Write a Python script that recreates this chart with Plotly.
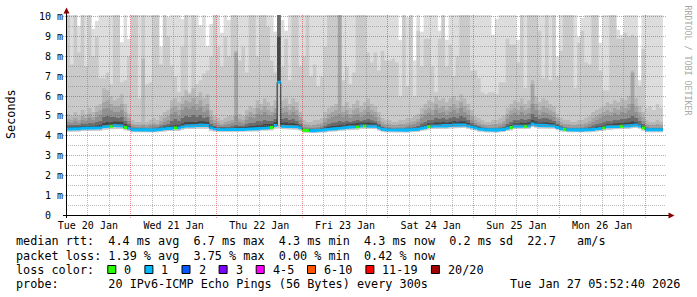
import pandas as pd
import plotly.graph_objects as go

# ---------------- data (hourly consolidated smokeping values, ms) ----------------
first_hour = "2026-01-20 06:00:00"
range_start = "2026-01-20 05:52:40"
range_end = "2026-01-27 05:52:40"

median_ms = [
    4.34, 4.34, 4.35, 4.36, 4.38, 4.38, 4.38, 4.37, 4.38, 4.40, 4.45, 4.48, 4.48, 4.52, 4.52, 4.50, 4.42, 4.38,
    4.30, 4.28, 4.28, 4.27, 4.27, 4.28, 4.28, 4.30, 4.33, 4.36, 4.38, 4.38, 4.40, 4.40, 4.45, 4.50, 4.52, 4.50, 4.52, 4.55, 4.55, 4.52, 4.40, 4.35,
    4.32, 4.31, 4.30, 4.30, 4.30, 4.31, 4.32, 4.32, 4.33, 4.35, 4.36, 4.36, 4.38, 4.38, 4.40, 4.42, 4.52, 6.70, 4.48, 4.48, 4.47, 4.46, 4.45, 4.40,
    4.28, 4.27, 4.26, 4.26, 4.27, 4.28, 4.30, 4.33, 4.35, 4.36, 4.38, 4.40, 4.42, 4.45, 4.45, 4.45, 4.50, 4.50, 4.48, 4.48, 4.48, 4.40, 4.33, 4.30,
    4.28, 4.27, 4.27, 4.27, 4.28, 4.28, 4.30, 4.32, 4.33, 4.38, 4.42, 4.47, 4.48, 4.50, 4.50, 4.52, 4.50, 4.52, 4.55, 4.52, 4.55, 4.55, 4.50, 4.45,
    4.40, 4.35, 4.32, 4.30, 4.28, 4.28, 4.28, 4.30, 4.32, 4.38, 4.42, 4.48, 4.48, 4.48, 4.48, 4.50, 4.60, 4.55, 4.52, 4.52, 4.52, 4.50, 4.50, 4.42,
    4.36, 4.32, 4.30, 4.28, 4.28, 4.28, 4.28, 4.30, 4.30, 4.32, 4.35, 4.37, 4.40, 4.45, 4.45, 4.47, 4.47, 4.48, 4.50, 4.50, 4.52, 4.55, 4.50, 4.40,
    4.30, 4.28, 4.28, 4.28, 4.30,
]

# number of lost pings class per hour (index into loss_colors)
loss_class = [
    1, 1, 1, 1, 1, 1, 1, 1, 1, 1, 1, 1, 0, 1, 1, 1, 0, 1,
    1, 1, 1, 1, 1, 1, 1, 1, 1, 1, 1, 1, 0, 1, 1, 1, 1, 1, 1, 1, 1, 1, 1, 1,
    1, 1, 1, 1, 1, 1, 1, 1, 1, 1, 1, 1, 1, 1, 1, 0, 1, 1, 1, 1, 1, 1, 1, 1,
    0, 0, 1, 1, 1, 1, 1, 1, 1, 1, 1, 1, 1, 1, 1, 0, 1, 0, 1, 1, 1, 1, 1, 1,
    1, 1, 1, 1, 1, 1, 1, 1, 1, 1, 1, 0, 1, 1, 1, 1, 1, 1, 1, 1, 1, 1, 1, 1,
    1, 1, 1, 1, 1, 1, 1, 1, 1, 1, 0, 1, 1, 1, 0, 1, 1, 1, 1, 1, 1, 1, 1, 1,
    1, 0, 1, 1, 1, 1, 1, 1, 1, 1, 1, 1, 0, 1, 1, 1, 1, 0, 1, 1, 1, 1, 1, 0,
    1, 1, 1, 1, 1,
]

# smoke: lowest ping and upper ping ranks (20 pings per round)
ping_low = [
    4.21, 4.21, 4.22, 4.22, 4.24, 4.24, 4.24, 4.23, 4.24, 4.26, 4.30, 4.32, 4.33, 4.36, 4.36, 4.34, 4.28, 4.24,
    4.18, 4.16, 4.16, 4.15, 4.15, 4.16, 4.16, 4.18, 4.20, 4.22, 4.24, 4.24, 4.26, 4.26, 4.30, 4.34, 4.36, 4.34, 4.36, 4.38, 4.38, 4.36, 4.26, 4.22,
    4.20, 4.19, 4.18, 4.18, 4.18, 4.19, 4.20, 4.20, 4.21, 4.22, 4.23, 4.23, 4.25, 4.25, 4.27, 4.28, 4.36, 4.38, 4.34, 4.34, 4.33, 4.32, 4.31, 4.27,
    4.16, 4.15, 4.14, 4.14, 4.15, 4.16, 4.18, 4.20, 4.22, 4.23, 4.25, 4.27, 4.28, 4.31, 4.31, 4.31, 4.35, 4.35, 4.34, 4.34, 4.34, 4.27, 4.20, 4.18,
    4.16, 4.15, 4.15, 4.15, 4.16, 4.16, 4.18, 4.20, 4.21, 4.25, 4.28, 4.32, 4.34, 4.35, 4.35, 4.37, 4.35, 4.37, 4.40, 4.37, 4.40, 4.40, 4.36, 4.31,
    4.27, 4.22, 4.20, 4.18, 4.16, 4.16, 4.16, 4.18, 4.20, 4.25, 4.28, 4.34, 4.34, 4.34, 4.34, 4.36, 4.45, 4.40, 4.37, 4.37, 4.37, 4.36, 4.36, 4.29,
    4.23, 4.20, 4.18, 4.16, 4.16, 4.16, 4.16, 4.18, 4.18, 4.20, 4.22, 4.24, 4.27, 4.31, 4.31, 4.33, 4.33, 4.34, 4.36, 4.36, 4.38, 4.40, 4.36, 4.27,
    4.18, 4.16, 4.16, 4.16, 4.18,
]

ping_20 = [
    10.5, 10.5, 10.5, 9.55, 10.5, 10.5, 10.5, 9.4, 9.8, 10.5, 10.5, 10.5, 10.5, 10.5, 10.5, 8.72, 10.5, 8.9,
    10.5, 10.5, 10.5, 10.5, 10.5, 10.5, 10.5, 10.5, 8.5, 10.5, 10.0, 10.5, 10.5, 10.5, 9.9, 10.5, 10.5, 10.5, 10.5, 9.6, 10.5, 8.55, 9.65, 10.5,
    10.5, 9.2, 10.5, 9.85, 10.5, 10.5, 10.5, 10.5, 10.5, 10.5, 10.5, 10.5, 10.5, 10.5, 10.5, 10.5, 9.25, 10.5, 9.85, 9.3, 10.5, 10.5, 10.5, 10.5,
    10.5, 10.5, 10.5, 10.5, 10.5, 10.5, 10.5, 10.5, 10.5, 10.5, 10.5, 10.5, 10.5, 10.5, 10.5, 10.5, 10.5, 10.5, 10.5, 10.5, 10.5, 10.5, 10.5, 10.5,
    10.5, 10.5, 10.5, 8.85, 10.5, 10.0, 10.5, 7.8, 10.5, 9.25, 10.5, 10.5, 10.5, 10.5, 9.3, 10.5, 8.85, 10.5, 10.5, 10.5, 10.5, 10.5, 10.5, 10.5,
    10.5, 10.5, 10.5, 10.5, 10.5, 9.1, 9.9, 10.5, 10.5, 10.5, 10.5, 10.5, 8.85, 10.5, 10.5, 10.5, 10.5, 10.5, 10.5, 10.5, 10.5, 10.5, 10.5, 8.0,
    10.5, 10.5, 10.5, 10.5, 10.5, 9.0, 9.95, 10.5, 10.5, 10.5, 10.5, 8.7, 10.5, 10.5, 10.5, 10.5, 9.35, 9.1, 10.5, 10.5, 10.5, 10.5, 6.8, 10.5,
    10.5, 10.5, 10.5, 10.5, 10.5,
]

ping_19 = [
    10.5, 7.6, 10.5, 8.2, 10.5, 7.5, 10.5, 8.0, 9.0, 6.9, 6.9, 7.2, 6.6, 10.5, 10.5, 6.7, 6.8, 8.0,
    10.5, 10.5, 5.9, 10.5, 6.6, 6.7, 10.5, 10.5, 7.6, 10.5, 9.0, 7.55, 7.0, 6.2, 8.5, 10.5, 6.2, 10.5, 6.6, 6.8, 7.15, 7.3, 8.0, 10.5,
    8.5, 7.5, 9.0, 8.0, 10.5, 10.5, 7.8, 8.5, 7.2, 10.5, 10.5, 8.0, 10.5, 10.5, 9.5, 7.8, 7.2, 10.5, 7.5, 8.9, 6.8, 10.5, 10.5, 7.5,
    8.0, 10.5, 7.0, 7.6, 6.5, 7.0, 8.5, 10.5, 10.5, 10.5, 10.5, 6.8, 7.5, 6.6, 7.2, 10.5, 10.5, 10.5, 8.2, 7.7, 8.2, 7.3, 8.3, 7.8,
    7.8, 7.9, 7.7, 6.0, 10.5, 6.5, 10.5, 6.0, 9.3, 7.5, 8.9, 8.9, 7.5, 6.2, 8.9, 10.5, 7.5, 8.6, 7.0, 8.0, 10.5, 10.5, 10.5, 7.3,
    7.3, 6.9, 6.2, 6.1, 6.2, 6.2, 6.1, 6.7, 6.7, 8.9, 8.6, 8.6, 7.7, 10.5, 6.4, 10.5, 10.5, 10.5, 9.3, 6.9, 10.5, 6.8, 10.5, 7.0,
    8.3, 10.5, 10.5, 10.5, 6.4, 8.7, 9.3, 7.7, 7.6, 10.5, 10.5, 7.3, 6.3, 6.3, 10.5, 10.5, 8.9, 8.9, 9.2, 9.0, 9.1, 9.0, 6.5, 8.4,
    5.4, 5.5, 5.3, 5.6, 5.4,
]

ping_18 = [
    5.1, 5.0, 5.2, 5.0, 5.3, 5.1, 5.4, 5.2, 5.5, 5.6, 6.4, 6.3, 6.0, 5.8, 5.9, 6.1, 5.6, 5.1,
    4.8, 4.7, 4.7, 7.9, 4.7, 4.8, 4.9, 4.8, 5.0, 5.2, 5.3, 5.8, 5.9, 5.7, 6.0, 6.3, 6.1, 6.4, 6.0, 6.2, 5.9, 6.1, 5.3, 5.0,
    4.9, 4.8, 4.9, 5.0, 5.0, 8.3, 5.1, 5.0, 5.3, 5.5, 5.4, 5.8, 5.6, 5.9, 5.7, 5.5, 5.8, 10.5, 5.8, 5.9, 5.6, 5.9, 5.7, 5.2,
    4.8, 4.7, 4.7, 4.8, 4.8, 4.9, 5.2, 5.4, 5.5, 5.6, 10.5, 5.5, 5.7, 5.4, 5.6, 5.8, 5.5, 5.7, 5.9, 5.6, 5.5, 5.2, 4.9, 4.8,
    4.8, 4.7, 4.7, 4.8, 4.8, 4.9, 4.9, 5.0, 5.1, 5.4, 5.6, 5.8, 5.7, 6.0, 5.8, 5.9, 5.7, 5.9, 6.0, 5.8, 6.1, 5.9, 5.6, 5.3,
    5.0, 4.9, 4.8, 4.7, 4.7, 4.8, 4.8, 4.9, 5.0, 5.4, 5.6, 5.8, 5.7, 5.9, 5.6, 5.8, 6.8, 6.0, 5.7, 5.9, 5.8, 5.6, 5.5, 5.1,
    4.9, 4.8, 4.8, 4.7, 4.7, 4.8, 4.8, 4.9, 5.0, 5.2, 5.3, 5.4, 5.5, 5.7, 5.6, 5.8, 5.7, 5.9, 5.8, 6.0, 7.3, 5.9, 5.5, 5.2,
    4.8, 4.7, 4.7, 4.8, 4.7,
]

ping_17 = [
    4.85, 4.8, 4.9, 4.8, 5.0, 4.9, 5.1, 4.95, 5.2, 5.3, 5.7, 5.8, 5.6, 5.5, 5.5, 5.6, 5.2, 4.9,
    4.6, 4.55, 4.55, 4.6, 4.55, 4.6, 4.65, 4.6, 4.75, 4.9, 5.0, 5.4, 5.5, 5.3, 5.6, 5.8, 5.7, 5.9, 5.6, 5.8, 5.5, 5.6, 5.0, 4.8,
    4.7, 4.6, 4.7, 4.75, 4.8, 8.2, 4.85, 4.8, 5.0, 5.2, 5.1, 5.4, 5.3, 5.5, 5.3, 5.2, 5.4, 10.5, 5.4, 5.5, 5.3, 5.5, 5.3, 4.95,
    4.6, 4.55, 4.5, 4.55, 4.6, 4.65, 4.9, 5.1, 5.2, 5.3, 10.5, 5.2, 5.3, 5.1, 5.3, 5.4, 5.2, 5.3, 5.5, 5.3, 5.2, 4.95, 4.7, 4.6,
    4.6, 4.55, 4.55, 4.6, 4.6, 4.65, 4.7, 4.75, 4.85, 5.1, 5.3, 5.4, 5.3, 5.6, 5.4, 5.5, 5.3, 5.5, 5.6, 5.4, 5.7, 5.5, 5.3, 5.0,
    4.8, 4.7, 4.6, 4.55, 4.55, 4.6, 4.6, 4.65, 4.75, 5.1, 5.3, 5.4, 5.3, 5.5, 5.3, 5.4, 6.6, 5.6, 5.3, 5.5, 5.4, 5.3, 5.2, 4.9,
    4.7, 4.6, 4.6, 4.55, 4.55, 4.6, 4.6, 4.65, 4.75, 4.9, 5.0, 5.1, 5.2, 5.3, 5.2, 5.4, 5.3, 5.5, 5.4, 5.6, 7.2, 5.5, 5.2, 4.95,
    4.6, 4.55, 4.55, 4.6, 4.55,
]

ping_16 = [
    4.7, 4.65, 4.75, 4.65, 4.8, 4.75, 4.9, 4.8, 4.95, 5.05, 5.35, 5.4, 5.3, 5.2, 5.2, 5.3, 4.95, 4.75,
    4.5, 4.45, 4.45, 4.5, 4.45, 4.5, 4.55, 4.5, 4.6, 4.7, 4.8, 5.1, 5.2, 5.0, 5.3, 5.45, 5.35, 5.5, 5.3, 5.45, 5.2, 5.3, 4.8, 4.65,
    4.55, 4.5, 4.55, 4.6, 4.65, 5.0, 4.7, 4.65, 4.8, 4.95, 4.9, 5.1, 5.05, 5.2, 5.05, 5.0, 5.15, 10.5, 5.15, 5.2, 5.05, 5.2, 5.05, 4.8,
    4.45, 4.42, 4.4, 4.42, 4.45, 4.5, 4.7, 4.85, 4.95, 5.0, 5.1, 4.95, 5.05, 4.9, 5.05, 5.1, 4.95, 5.05, 5.2, 5.05, 4.95, 4.75, 4.55, 4.48,
    4.45, 4.42, 4.42, 4.45, 4.45, 4.5, 4.55, 4.6, 4.7, 4.9, 5.05, 5.15, 5.05, 5.3, 5.15, 5.2, 5.05, 5.2, 5.3, 5.15, 5.4, 5.2, 5.05, 4.8,
    4.65, 4.55, 4.48, 4.45, 4.42, 4.45, 4.45, 4.5, 4.6, 4.85, 5.05, 5.15, 5.05, 5.2, 5.05, 5.15, 5.6, 5.3, 5.05, 5.2, 5.15, 5.05, 4.95, 4.75,
    4.55, 4.48, 4.45, 4.42, 4.42, 4.45, 4.45, 4.5, 4.6, 4.7, 4.8, 4.9, 5.0, 5.05, 5.0, 5.15, 5.05, 5.2, 5.15, 5.3, 5.6, 5.2, 4.95, 4.75,
    4.48, 4.42, 4.42, 4.45, 4.42,
]

ping_14 = [
    4.55, 4.55, 4.58, 4.55, 4.62, 4.6, 4.65, 4.62, 4.7, 4.75, 4.95, 5.0, 4.95, 4.95, 4.9, 4.95, 4.75, 4.6,
    4.4, 4.37, 4.37, 4.38, 4.36, 4.38, 4.4, 4.42, 4.48, 4.55, 4.6, 4.75, 4.85, 4.75, 4.9, 5.0, 4.95, 5.05, 4.95, 5.05, 4.9, 4.95, 4.6, 4.5,
    4.45, 4.42, 4.42, 4.45, 4.48, 4.55, 4.5, 4.5, 4.58, 4.65, 4.65, 4.75, 4.72, 4.8, 4.75, 4.75, 4.85, 10.5, 4.85, 4.9, 4.8, 4.85, 4.75, 4.6,
    4.36, 4.34, 4.33, 4.34, 4.36, 4.4, 4.5, 4.6, 4.65, 4.68, 4.75, 4.7, 4.75, 4.7, 4.75, 4.8, 4.75, 4.8, 4.85, 4.78, 4.72, 4.6, 4.45, 4.4,
    4.37, 4.35, 4.35, 4.36, 4.37, 4.4, 4.42, 4.45, 4.5, 4.62, 4.7, 4.8, 4.78, 4.9, 4.85, 4.9, 4.82, 4.9, 4.95, 4.88, 5.0, 4.92, 4.8, 4.65,
    4.55, 4.48, 4.42, 4.38, 4.36, 4.37, 4.37, 4.4, 4.45, 4.6, 4.7, 4.8, 4.78, 4.85, 4.8, 4.85, 5.1, 4.95, 4.85, 4.9, 4.88, 4.82, 4.75, 4.6,
    4.48, 4.42, 4.38, 4.36, 4.36, 4.37, 4.38, 4.4, 4.45, 4.52, 4.58, 4.62, 4.68, 4.75, 4.72, 4.8, 4.78, 4.85, 4.85, 4.9, 5.0, 4.9, 4.75, 4.6,
    4.4, 4.36, 4.36, 4.37, 4.38,
]

ping_12 = [
    4.44, 4.44, 4.46, 4.46, 4.5, 4.49, 4.5, 4.48, 4.52, 4.56, 4.65, 4.7, 4.68, 4.72, 4.7, 4.7, 4.58, 4.5,
    4.36, 4.33, 4.33, 4.33, 4.32, 4.33, 4.34, 4.36, 4.4, 4.45, 4.48, 4.52, 4.56, 4.55, 4.62, 4.7, 4.7, 4.72, 4.7, 4.75, 4.72, 4.7, 4.5, 4.43,
    4.39, 4.37, 4.36, 4.37, 4.38, 4.42, 4.42, 4.42, 4.45, 4.5, 4.5, 4.55, 4.55, 4.6, 4.58, 4.6, 4.68, 9.0, 4.65, 4.68, 4.62, 4.65, 4.6, 4.5,
    4.33, 4.32, 4.31, 4.31, 4.32, 4.34, 4.4, 4.46, 4.5, 4.52, 4.56, 4.56, 4.6, 4.6, 4.62, 4.65, 4.65, 4.68, 4.68, 4.64, 4.62, 4.52, 4.4, 4.36,
    4.33, 4.32, 4.32, 4.32, 4.33, 4.34, 4.36, 4.38, 4.4, 4.48, 4.55, 4.62, 4.62, 4.68, 4.66, 4.7, 4.66, 4.7, 4.75, 4.7, 4.75, 4.72, 4.65, 4.55,
    4.48, 4.42, 4.38, 4.35, 4.33, 4.33, 4.33, 4.35, 4.38, 4.48, 4.55, 4.62, 4.62, 4.66, 4.64, 4.68, 4.8, 4.72, 4.66, 4.68, 4.68, 4.64, 4.62, 4.52,
    4.42, 4.37, 4.34, 4.32, 4.32, 4.32, 4.33, 4.35, 4.37, 4.4, 4.45, 4.48, 4.52, 4.58, 4.58, 4.62, 4.62, 4.65, 4.66, 4.68, 4.72, 4.68, 4.6, 4.5,
    4.36, 4.33, 4.33, 4.33, 4.35,
]

loss_colors = ["#26ff00", "#00b8ff", "#0059ff", "#7e00ff", "#ff00ff", "#ff5500", "#ff0000", "#a10000"]
loss_labels = ["0", "1", "2", "3", "4-5", "6-10", "11-19", "20/20"]

x_tick_vals = ["2026-01-20 12:00", "2026-01-21 12:00", "2026-01-22 12:00", "2026-01-23 12:00",
               "2026-01-24 12:00", "2026-01-25 12:00", "2026-01-26 12:00"]
x_tick_text = ["Tue 20 Jan", "Wed 21 Jan", "Thu 22 Jan", "Fri 23 Jan", "Sat 24 Jan", "Sun 25 Jan", "Mon 26 Jan"]
y_tick_vals = [0, 1, 2, 3, 4, 5, 6, 7, 8, 9, 10]
y_tick_text = ["0  ", "1 m", "2 m", "3 m", "4 m", "5 m", "6 m", "7 m", "8 m", "9 m", "10 m"]

legend_lines = [
    "median rtt:  4.4 ms avg  6.7 ms max  4.3 ms min  4.3 ms now  0.2 ms sd  22.7   am/s",
    "packet loss: 1.39 % avg  3.75 % max  0.00 % min  0.42 % now",
    "loss color:",
    "probe:       20 IPv6-ICMP Echo Pings (56 Bytes) every 300s",
]
stamp_text = "Tue Jan 27 05:52:40 2026"
y_title = "Seconds"
watermark = "RRDTOOL / TOBI OETIKER"

n = len(median_ms)
for arr in (loss_class, ping_low, ping_20, ping_19, ping_18, ping_17, ping_16, ping_14, ping_12):
    assert len(arr) == n, len(arr)

# ---------------- geometry ----------------
W, H = 697, 297
L, R, T, B = 66, 31, 15, 82
PW, PH = W - L - R, H - T - B
Y_MAX = 10.1
MONO = "DejaVu Sans Mono"

def px_x(px):
    return (px - L) / PW

def px_y(py):
    return (T + PH - py) / PH

hours = pd.date_range(first_hour, periods=n, freq="h")
starts = list(hours)
ends = [h + pd.Timedelta(hours=1) for h in hours]

fig = go.Figure()

def step_polygon(idx, top, base):
    xs, ys = [], []
    for i in idx:
        xs += [starts[i], ends[i]]
        ys += [top[i], top[i]]
    for i in reversed(idx):
        xs += [ends[i], starts[i]]
        ys += [base[i], base[i]]
    xs.append(starts[idx[0]])
    ys.append(top[idx[0]])
    return xs, ys

all_idx = list(range(n))
smoke_layers = [
    (ping_20, ping_low, "#dddddd"),
    (ping_19, ping_low, "#cacaca"),
    (ping_18, median_ms, "#b7b7b7"),
    (ping_17, median_ms, "#a4a4a4"),
    (ping_16, median_ms, "#919191"),
    (ping_14, median_ms, "#6b6b6b"),
    (ping_12, median_ms, "#454545"),
]
for top, base, col in smoke_layers:
    xs, ys = step_polygon(all_idx, top, base)
    fig.add_trace(go.Scatter(x=xs, y=ys, mode="lines", fill="toself", fillcolor=col,
                             line=dict(width=0, color=col), hoverinfo="skip"))

# median step line
fig.add_trace(go.Scatter(x=starts + [ends[-1]], y=median_ms + [median_ms[-1]], mode="lines",
                         line=dict(color="#202020", width=1, shape="hv"), hoverinfo="skip"))

# loss-coloured median band
half = 0.075
band_top = [m + half for m in median_ms]
band_bot = [m - half for m in median_ms]
runs = []
i = 0
while i < n:
    j = i
    while j + 1 < n and loss_class[j + 1] == loss_class[i]:
        j += 1
    runs.append((i, j))
    i = j + 1
for lc in sorted(set(loss_class)):
    xs, ys = [], []
    for a, b in runs:
        if loss_class[a] != lc:
            continue
        px_, py_ = step_polygon(list(range(a, b + 1)), band_top, band_bot)
        xs += px_ + [None]
        ys += py_ + [None]
    fig.add_trace(go.Scatter(x=xs, y=ys, mode="lines", fill="toself", fillcolor=loss_colors[lc],
                             line=dict(width=0, color=loss_colors[lc]), hoverinfo="skip"))

# ---------------- grid (drawn above the smoke, like rrdtool) ----------------
shapes = []
t0 = pd.Timestamp(range_start)
t1 = pd.Timestamp(range_end)

def snap(p):
    return int(p) + 0.5

MAJ = "rgba(225,30,30,0.5)"
MIN = "rgba(120,120,120,0.5)"

for k in range(1, 21):
    v = k / 2
    py = snap(T + PH - PH * v / Y_MAX)
    major = (k % 2 == 0)
    shapes.append(dict(type="line", xref="paper", yref="paper", layer="above",
                       x0=px_x(L - 3 if major else L), x1=1, y0=px_y(py), y1=px_y(py),
                       line=dict(color=MAJ if major else MIN, width=1, dash="1px,1px")))

tt = pd.date_range("2026-01-20 06:00", "2026-01-27 00:00", freq="6h")
for t in tt:
    frac = (t - t0) / (t1 - t0)
    px = snap(L + PW * frac)
    major = (t.hour == 0)
    shapes.append(dict(type="line", xref="paper", yref="paper", layer="above",
                       x0=px_x(px), x1=px_x(px), y0=px_y(T + PH + (3 if major else 0)), y1=1,
                       line=dict(color=MAJ if major else MIN, width=1, dash="1px,1px")))

# axes + arrows
AX = "#000000"
ARROW = "#8b0000"
shapes.append(dict(type="line", xref="paper", yref="paper", layer="above",
                   x0=px_x(63), x1=px_x(669), y0=px_y(215.5), y1=px_y(215.5), line=dict(color=AX, width=1)))
shapes.append(dict(type="line", xref="paper", yref="paper", layer="above",
                   x0=px_x(66.5), x1=px_x(66.5), y0=px_y(218), y1=px_y(12), line=dict(color=AX, width=1)))

def tri(pts):
    p = "M " + " L ".join(f"{px_x(a):.5f},{px_y(b):.5f}" for a, b in pts) + " Z"
    return p

shapes.append(dict(type="path", xref="paper", yref="paper", layer="above",
                   path=tri([(63.5, 13.5), (69.5, 13.5), (66.5, 7.5)]),
                   fillcolor=ARROW, line=dict(width=0)))
shapes.append(dict(type="path", xref="paper", yref="paper", layer="above",
                   path=tri([(668.5, 212.5), (668.5, 218.5), (674.5, 215.5)]),
                   fillcolor=ARROW, line=dict(width=0)))

# ---------------- legend text ----------------
annotations = []
CH = 7.1
LEG_SIZE = 11.8
row_y = [241, 255.5, 269.5, 284]
X0 = 15

def nb(s):
    return s.replace(" ", "\u00a0")

def ann(px, py, text, size, xanchor="left", yanchor="middle", angle=0, color="#000000"):
    annotations.append(dict(xref="paper", yref="paper", x=px_x(px), y=px_y(py), text=nb(text),
                            showarrow=False, xanchor=xanchor, yanchor=yanchor, textangle=angle,
                            borderpad=0, font=dict(family=MONO, size=size, color=color)))

for line, ry in zip(legend_lines, row_y):
    ann(X0, ry, line, LEG_SIZE)
ann(681, row_y[3], stamp_text, LEG_SIZE, xanchor="right")
ann(11, 114, y_title, LEG_SIZE, xanchor="center", angle=-90)
ann(687.5, 60, watermark, 8.3, xanchor="center", angle=90, color="#a8a8a8")

bx = X0 + 13 * CH
for lab, col in zip(loss_labels, loss_colors):
    shapes.append(dict(type="rect", xref="paper", yref="paper", layer="above",
                       x0=px_x(bx + 0.5), x1=px_x(bx + 8.5), y0=px_y(row_y[2] - 4), y1=px_y(row_y[2] + 4),
                       fillcolor=col, line=dict(color="#000000", width=1)))
    tx = bx + 16
    ann(tx, row_y[2], lab, LEG_SIZE)
    bx = tx + CH * len(lab) + 14

fig.update_layout(
    width=W, height=H, margin=dict(l=L, r=R, t=T, b=B, pad=0),
    paper_bgcolor="#ffffff", plot_bgcolor="#ffffff", showlegend=False,
    shapes=shapes, annotations=annotations,
    xaxis=dict(type="date", range=[range_start, range_end], showgrid=False, zeroline=False,
               showline=False, ticks="", tickvals=x_tick_vals, ticktext=x_tick_text,
               tickfont=dict(family=MONO, size=10, color="#000000"), fixedrange=True,
               ticklabelstandoff=3),
    yaxis=dict(range=[0, Y_MAX], showgrid=False, zeroline=False, showline=False, ticks="",
               tickvals=y_tick_vals, ticktext=[nb(t) for t in y_tick_text],
               tickfont=dict(family=MONO, size=10, color="#000000"), fixedrange=True,
               ticklabelstandoff=2),
)

fig.write_html("out.html", config={"displayModeBar": False})
